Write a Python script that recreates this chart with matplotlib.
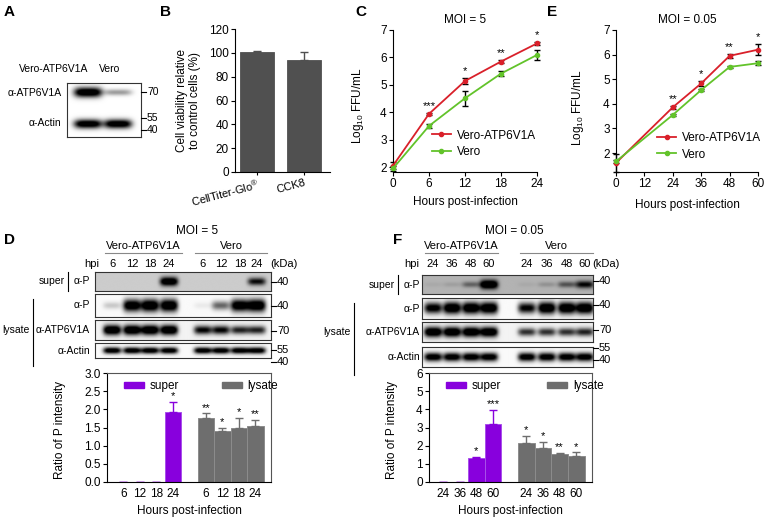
import numpy as np
import matplotlib
matplotlib.use('Agg')
import matplotlib.pyplot as plt
from matplotlib.lines import Line2D
from matplotlib.patches import Patch

plt.rcParams['font.family'] = ['Liberation Sans', 'DejaVu Sans']
plt.rcParams['mathtext.default'] = 'regular'
plt.rcParams['font.size'] = 8.5
plt.rcParams['axes.linewidth'] = 0.8

# ---- data ----
a_lanes = ['Vero-ATP6V1A', 'Vero']
a_atp6v1a = [1.0, 0.3]
a_actin = [0.95, 0.95]

b_assays = ['CellTiter-Glo$^{\\circledR}$', 'CCK8']
b_viability = [100.5, 94.0]
b_err = [0.8, 6.5]

c_hours = [0, 6, 12, 18, 24]
c_atp = [2.05, 3.94, 5.14, 5.85, 6.51]
c_atp_err = [0.12, 0.04, 0.10, 0.04, 0.05]
c_vero = [1.95, 3.50, 4.51, 5.41, 6.09]
c_vero_err = [0.08, 0.06, 0.27, 0.08, 0.19]
c_stars = ['', '***', '*', '**', '*']

e_hours = [0, 24, 36, 48, 60]
e_atp = [1.60, 3.86, 4.83, 5.95, 6.20]
e_atp_err = [0.37, 0.05, 0.10, 0.08, 0.22]
e_vero = [1.66, 3.55, 4.56, 5.50, 5.65]
e_vero_err = [0.05, 0.03, 0.04, 0.04, 0.09]
e_stars = ['', '**', '*', '**', '*']

d_hpi = ['6', '12', '18', '24']
d_super_blot = [0.0, 0.0, 0.0, 0.85, 0.0, 0.0, 0.0, 0.6]
d_p_blot = [0.15, 0.95, 1.0, 1.0, 0.05, 0.45, 0.95, 1.0]
d_atp_blot = [1.0, 1.0, 1.0, 1.0, 0.75, 0.75, 0.65, 0.65]
d_actin_blot = [0.9, 0.9, 0.9, 0.9, 0.9, 0.9, 0.9, 0.9]
d_super_ratio = [0, 0, 0, 1.92]
d_super_err = [0, 0, 0, 0.28]
d_super_stars = ['', '', '', '*']
d_lysate_ratio = [1.75, 1.39, 1.49, 1.55]
d_lysate_err = [0.14, 0.10, 0.28, 0.17]
d_lysate_stars = ['**', '*', '*', '**']

f_hpi = ['24', '36', '48', '60']
f_super_blot = [0.03, 0.06, 0.25, 0.85, 0.03, 0.1, 0.3, 0.55]
f_p_blot = [0.85, 1.0, 1.0, 1.0, 0.8, 1.0, 1.0, 1.0]
f_atp_blot = [1.0, 1.0, 1.0, 1.0, 0.6, 0.6, 0.6, 0.65]
f_actin_blot = [0.9, 0.9, 0.9, 0.9, 0.9, 0.9, 0.9, 0.9]
f_super_ratio = [0, 0, 1.32, 3.21]
f_super_err = [0, 0, 0.07, 0.77]
f_super_stars = ['', '', '*', '***']
f_lysate_ratio = [2.17, 1.85, 1.52, 1.43]
f_lysate_err = [0.36, 0.37, 0.08, 0.20]
f_lysate_stars = ['*', '*', '**', '*']

RED = '#d9202a'
GREEN = '#62c32a'
PURPLE = '#8800dd'
GRAY = '#6e6e6e'
FS = 8.5     # axis text
BFS = 7.5    # blot annotations

W, H = 765, 518
fig = plt.figure(figsize=(W / 100, H / 100), dpi=100)


def box(x0, y0, x1, y1):
    return fig.add_axes([x0 / W, 1 - y1 / H, (x1 - x0) / W, (y1 - y0) / H])


def txt(x, y, s, **kw):
    kw.setdefault('va', 'center')
    kw.setdefault('fontsize', BFS)
    fig.text(x / W, 1 - y / H, s, **kw)


def line(xs, ys, **kw):
    kw.setdefault('color', 'black')
    kw.setdefault('lw', 0.8)
    fig.add_artist(Line2D([x / W for x in xs], [1 - y / H for y in ys], **kw))


def blot(x0, y0, x1, y1, lanes, rows, bg=0.0, wx=8.5):
    ax = box(x0, y0, x1, y1)
    xs = np.linspace(x0, x1, 300)
    ys = np.linspace(0, 1, 120)
    X, Y = np.meshgrid(xs, ys)
    img = np.full(X.shape, bg)
    for yc, levels, hy in rows:
        for xc, lv in zip(lanes, levels):
            h = hy * (0.55 + 0.6 * lv)
            img += 1.3 * lv * np.exp(-np.abs((X - xc) / wx) ** 4) * np.exp(-((Y - yc) / h) ** 2)
    ax.imshow(np.clip(img, 0, 1), cmap='gray_r', vmin=0, vmax=1,
              extent=[x0, x1, 1, 0], aspect='auto', interpolation='bilinear')
    ax.set_xticks([])
    ax.set_yticks([])
    for s in ax.spines.values():
        s.set_linewidth(0.8)
        s.set_color('#333333')
    return ax


def style(ax):
    ax.spines['top'].set_visible(False)
    ax.spines['right'].set_visible(False)
    ax.tick_params(length=3, width=0.8, pad=1.5, labelsize=FS)


# ---------------- A ----------------
txt(4, 12, 'A', fontsize=11, fontweight='bold')
a_x = [88, 118]
blot(67, 83, 141, 137, a_x, [(0.17, a_atp6v1a, 0.08), (0.76, a_actin, 0.075)], wx=14)
txt(88, 69, a_lanes[0], ha='right')
txt(99, 69, a_lanes[1], ha='left')
txt(62, 93, 'α-ATP6V1A', ha='right')
txt(61, 123, 'α-Actin', ha='right')
for yy, mw in zip([92, 118, 130], ['70', '55', '40']):
    line([141, 146], [yy, yy])
    txt(147, yy, mw, ha='left')

# ---------------- B ----------------
txt(160, 12, 'B', fontsize=11, fontweight='bold')
axb = box(235, 29, 330, 172)
style(axb)
bx = np.arange(len(b_assays))
axb.bar(bx, b_viability, width=0.72, color='#505050', edgecolor='#505050', lw=0.6)
axb.errorbar(bx, b_viability, yerr=[np.zeros(2), b_err], fmt='none', ecolor='#505050',
             elinewidth=1, capsize=3, capthick=1)
axb.set_xlim(-0.47, 1.55)
axb.set_ylim(0, 120)
axb.set_yticks(np.arange(0, 121, 20))
axb.set_xticks(bx)
axb.set_xticklabels(b_assays, rotation=15, ha='right', rotation_mode='anchor', fontsize=8)
axb.tick_params(axis='x', length=2.5)
axb.set_ylabel('Cell viability relative\nto control cells (%)', fontsize=FS, linespacing=1.1)
axb.yaxis.set_label_coords(-0.36, 0.5)


# ---------------- C & E ----------------
def growth(ax, hours, atp, atp_err, vero, vero_err, stars, xt, title, lx, ly):
    style(ax)
    ax.errorbar(hours, atp, yerr=atp_err, color=RED, marker='o', ms=3, lw=1.3,
                ecolor='black', elinewidth=1, capsize=2.5, capthick=1,
                clip_on=False, zorder=3)
    ax.errorbar(hours, vero, yerr=vero_err, color=GREEN, marker='o', ms=3, lw=1.3,
                ecolor='black', elinewidth=1, capsize=2.5, capthick=1,
                clip_on=False, zorder=3)
    for h, a, ae, s in zip(hours, atp, atp_err, stars):
        if s:
            ax.annotate(s, (h, a + ae), xytext=(0, 1.5), textcoords='offset points',
                        ha='center', va='bottom', fontsize=8)
    ax.set_xticks(xt)
    ax.set_xlim(xt[0], xt[-1])
    ax.set_yticks(range(2, 8))
    ax.set_title(title, fontsize=FS, pad=5)
    ax.set_ylabel('Log$_{10}$ FFU/mL', fontsize=FS)
    ax.set_xlabel('Hours post-infection', fontsize=FS)
    handles = [Line2D([], [], color=RED, marker='o', ms=3, lw=1.3),
               Line2D([], [], color=GREEN, marker='o', ms=3, lw=1.3)]
    ax.legend(handles, ['Vero-ATP6V1A', 'Vero'], loc='center left', bbox_to_anchor=(lx, ly),
              frameon=False, fontsize=FS, handlelength=1.6, handletextpad=0.5,
              labelspacing=0.35, borderpad=0)
    return ax


txt(355, 12, 'C', fontsize=11, fontweight='bold')
axc = box(393, 30, 537, 172)
growth(axc, c_hours, c_atp, c_atp_err, c_vero, c_vero_err, c_stars, [0, 6, 12, 18, 24],
       'MOI = 5', 0.23, 0.2)
axc.set_ylim(1.82, 7)
axc.yaxis.set_label_coords(-0.19, 0.47)
axc.xaxis.set_label_coords(0.5, -0.17)

txt(547, 12, 'E', fontsize=11, fontweight='bold')
axe = box(616, 30, 758, 172)
growth(axe, e_hours, e_atp, e_atp_err, e_vero, e_vero_err, e_stars, [0, 12, 24, 36, 48, 60],
       'MOI = 0.05', 0.25, 0.18)
axe.set_ylim(1.23, 7)
axe.yaxis.set_label_coords(-0.21, 0.45)
axe.xaxis.set_label_coords(0.5, -0.19)


# ---------------- D & F ----------------
def blot_panel(x0, x1, lanes, hpi, sup, pp, atp, act, strips, sup_bg, left, mw_y, lysate_x,
               top_texts):
    (title_x, title, g1x, g1, g2x, g2, hpi_x) = top_texts
    txt(title_x, 231, title, ha='center', fontsize=FS)
    txt(g1x[0] + (g1x[1] - g1x[0]) / 2, 246, g1, ha='center', fontsize=8)
    line(g1x, [253, 253], color='#888888')
    txt(g2x[0] + (g2x[1] - g2x[0]) / 2, 246, g2, ha='center', fontsize=8)
    line(g2x, [253, 253], color='#888888')
    txt(hpi_x, 264, 'hpi', ha='center', fontsize=8)
    for xl, lab in zip(lanes, hpi + hpi):
        txt(xl, 264, lab, ha='center', fontsize=8)
    txt(x1 - 1, 264, '(kDa)', ha='left', fontsize=8)
    data = [sup, pp, atp, act]
    bgs = [sup_bg, 0.02, 0.05, 0.02]
    hys = [0.22, 0.24, 0.22, 0.2]
    for (y0, y1), lv, bg, hy in zip(strips, data, bgs, hys):
        blot(x0, y0, x1, y1, lanes, [(0.5, lv, hy)], bg=bg, wx=9)
    ymid = [(a + b) / 2 for a, b in strips]
    txt(left - 25, ymid[0], 'super', ha='right')
    line([left - 22, left - 22], [strips[0][0], strips[0][1]])
    txt(left, ymid[0], 'α-P', ha='right')
    for ym, lab in zip(ymid[1:], ['α-P', 'α-ATP6V1A', 'α-Actin']):
        txt(left, ym, lab, ha='right')
    txt(lysate_x - 3, ymid[2], 'lysate', ha='right')
    line([lysate_x, lysate_x], [strips[1][0] + 5, strips[3][1] + 8])
    for yy, mw in zip(mw_y, ['40', '40', '70', '55', '40']):
        line([x1, x1 + 5], [yy, yy])
        txt(x1 + 6, yy, mw, ha='left', fontsize=8)


def ratio_panel(ax, hpi, sup, sup_err, sup_st, lys, lys_err, lys_st, ymax, ystep, fmt,
                xlo, lab_x, leg_x, colsp):
    xs_s = np.arange(4)
    xs_l = np.arange(4) + 5
    ax.bar(xs_s, sup, width=1, color=PURPLE, edgecolor='#a850ea', lw=0.7)
    ax.bar(xs_l, lys, width=1, color=GRAY, edgecolor='#8c8c8c', lw=0.7)
    ax.errorbar(xs_s, sup, yerr=[np.zeros(4), sup_err], fmt='none', ecolor=PURPLE,
                elinewidth=1, capsize=3, capthick=1)
    ax.errorbar(xs_l, lys, yerr=[np.zeros(4), lys_err], fmt='none', ecolor=GRAY,
                elinewidth=1, capsize=3, capthick=1)
    for x, v, e, s in list(zip(xs_s, sup, sup_err, sup_st)) + list(zip(xs_l, lys, lys_err, lys_st)):
        if s:
            ax.annotate(s, (x, v + e), xytext=(0, 0.5), textcoords='offset points',
                        ha='center', va='bottom', fontsize=8)
    ax.set_xlim(xlo, 8.95)
    ax.set_ylim(0, ymax)
    ax.set_yticks(np.arange(0, ymax + 0.01, ystep))
    ax.yaxis.set_major_formatter(plt.FormatStrFormatter(fmt))
    ax.set_xticks(np.concatenate([xs_s, xs_l]))
    ax.set_xticklabels(hpi + hpi)
    ax.tick_params(length=3, width=0.8, pad=1.5, labelsize=FS)
    ax.tick_params(axis='x', length=0, pad=4)
    for s in ax.spines.values():
        s.set_linewidth(0.8)
        s.set_color('#555555')
    ax.spines['left'].set_color('black')
    ax.spines['bottom'].set_color('black')
    ax.set_ylabel('Ratio of P intensity', fontsize=FS)
    ax.yaxis.set_label_coords(lab_x, 0.48)
    ax.set_xlabel('Hours post-infection', fontsize=FS)
    ax.xaxis.set_label_coords(0.5, -0.215)
    ax.legend(handles=[Patch(color=PURPLE), Patch(color=GRAY)], labels=['super', 'lysate'],
              loc='upper left', bbox_to_anchor=(leg_x, 1.0), ncol=2, frameon=False,
              fontsize=FS, handlelength=1.7, handleheight=0.5, handletextpad=0.5,
              columnspacing=colsp, borderpad=0.1)


txt(4, 240, 'D', fontsize=11, fontweight='bold')
d_lanes = [112, 132, 150, 169, 203, 221, 240, 257]
d_strips = [(272, 291), (294, 317), (320, 340), (343, 358)]
blot_panel(95, 271, d_lanes, d_hpi, d_super_blot, d_p_blot, d_atp_blot, d_actin_blot,
           d_strips, 0.2, 90, [282, 306, 331, 350, 362], 33,
           (197, 'MOI = 5', [105, 182], 'Vero-ATP6V1A', [195, 267], 'Vero', 92))
axd = box(107, 373, 271, 482)
ratio_panel(axd, d_hpi, d_super_ratio, d_super_err, d_super_stars, d_lysate_ratio,
            d_lysate_err, d_lysate_stars, 3.0, 0.5, '%.1f', -1.0, -0.25, 0.06, 3.6)

txt(393, 240, 'F', fontsize=11, fontweight='bold')
f_lanes = [433, 452, 471, 489, 527, 547, 567, 585]
f_strips = [(275, 294), (298, 319), (322, 342), (347, 367)]
blot_panel(422, 593, f_lanes, f_hpi, f_super_blot, f_p_blot, f_atp_blot, f_actin_blot,
           f_strips, 0.3, 420, [281, 305, 330, 348, 360], 354,
           (514, 'MOI = 0.05', [425, 498], 'Vero-ATP6V1A', [520, 593], 'Vero', 412))
axf = box(429, 373, 592, 482)
ratio_panel(axf, f_hpi, f_super_ratio, f_super_err, f_super_stars, f_lysate_ratio,
            f_lysate_err, f_lysate_stars, 6, 1, '%d', -0.85, -0.19, 0.06, 3.9)

fig.savefig('out.png', dpi=100)
